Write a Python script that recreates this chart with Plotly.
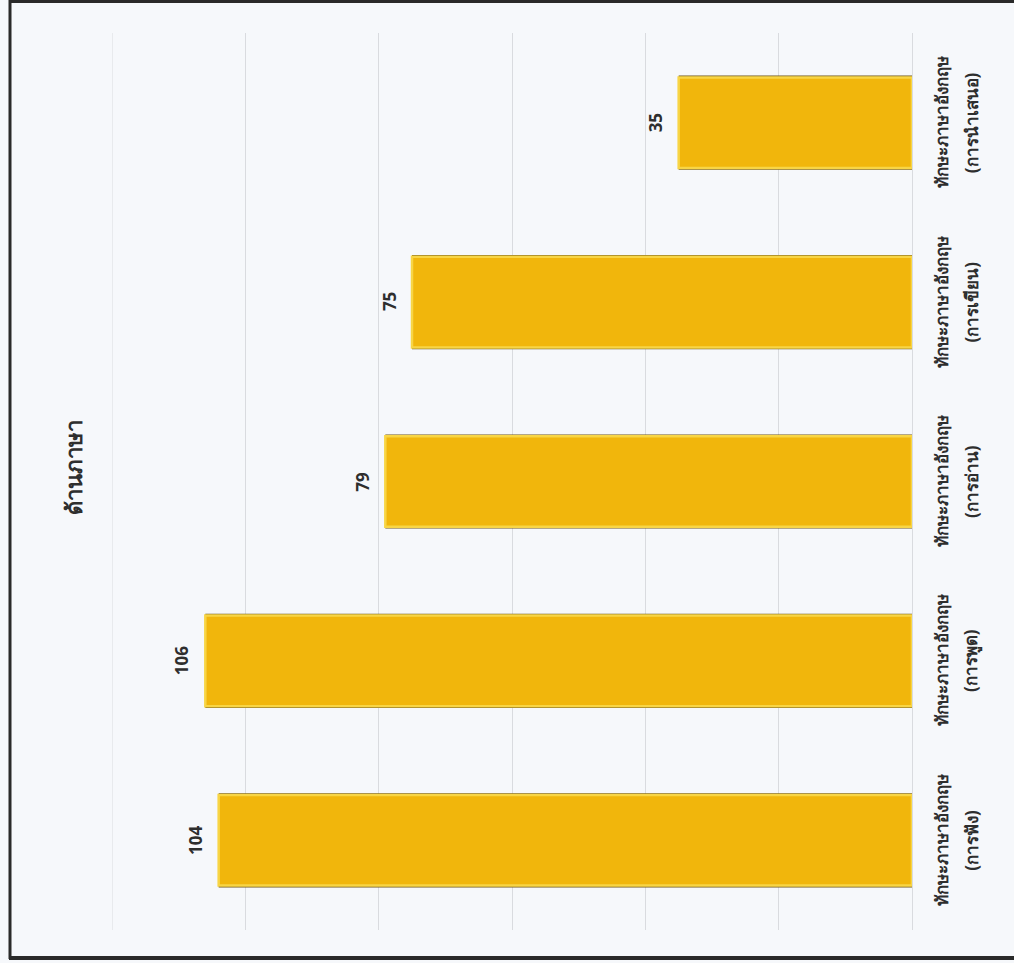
import plotly.graph_objects as go

# Categories listed from the bottom of the chart upwards
skill_main = "ทักษะภาษาอังกฤษ"
skill_sub = ["(การฟัง)", "(การพูด)", "(การอ่าน)", "(การเขียน)", "(การนำเสนอ)"]
categories = [f"{skill_main} {s}" for s in skill_sub]
values = [104, 106, 79, 75, 35]
title_text = "ด้านภาษา"

W, H = 1014, 963
ML, MR, MT, MB = 112, 102, 33, 33
PW, PH = W - ML - MR, H - MT - MB
bg = "#F6F8FB"
bar_color = "#F1B60C"
text_color = "#2E2E2E"
grid_color = "#D9DBDF"
font_family = "Noto Sans, DejaVu Sans, sans-serif"

fig = go.Figure()

# Dark shadow layer slightly wider than the bar gives the outline edge
fig.add_trace(go.Bar(
    x=values, y=categories, orientation="h",
    width=0.525,
    marker=dict(color="#6E5414", line=dict(width=0)),
    hoverinfo="skip", showlegend=False,
))
# Main bar with a light bevel rim
fig.add_trace(go.Bar(
    x=values, y=categories, orientation="h",
    width=0.505,
    marker=dict(color=bar_color, line=dict(color="#F8D545", width=2.5)),
    showlegend=False,
))

annotations = []
# Value labels at the end of each bar
for cat, v in zip(categories, values):
    annotations.append(dict(
        x=v, y=cat, xref="x", yref="y", text=f"<b>{v}</b>",
        textangle=-90, xshift=-23, showarrow=False,
        font=dict(family=font_family, size=17, color=text_color),
    ))
# Two-line category labels on the right-hand side
for cat, sub in zip(categories, skill_sub):
    annotations.append(dict(
        x=1 + 43 / PW, y=cat, xref="paper", yref="y", text=f"<b>{skill_main}</b>",
        textangle=-90, showarrow=False,
        font=dict(family=font_family, size=17, color=text_color),
    ))
    annotations.append(dict(
        x=1 + 73 / PW, y=cat, xref="paper", yref="y", text=f"<b>{sub}</b>",
        textangle=-90, showarrow=False,
        font=dict(family=font_family, size=17, color=text_color),
    ))
# Chart title
annotations.append(dict(
    text=f"<b>{title_text}</b>", textangle=-90,
    x=-56 / PW, y=0.515, xref="paper", yref="paper",
    font=dict(family=font_family, size=22, color=text_color),
    showarrow=False,
))

fig.update_layout(
    width=W, height=H,
    paper_bgcolor=bg, plot_bgcolor=bg,
    margin=dict(l=ML, r=MR, t=MT, b=MB),
    barmode="overlay",
    font=dict(family=font_family, color=text_color),
    xaxis=dict(
        range=[120, 0],
        tickmode="linear", tick0=0, dtick=20,
        showticklabels=False,
        showgrid=True, gridcolor=grid_color, gridwidth=1,
        zeroline=False, showline=False,
    ),
    yaxis=dict(
        side="right",
        showticklabels=False,
        showgrid=False, zeroline=False,
        showline=True, linecolor=grid_color, linewidth=1,
        ticks="",
    ),
    annotations=annotations,
)

# Gridline at the far end of the value axis
fig.add_shape(type="line", xref="x", yref="paper", x0=120, x1=120, y0=0, y1=1,
              line=dict(color=grid_color, width=1), layer="below")

# Dark page frame (left, top, bottom)
fig.add_shape(type="line", xref="paper", yref="paper",
              x0=-102 / PW, x1=-102 / PW, y0=-29 / PH, y1=1 + 33 / PH,
              line=dict(color="#2A2A2A", width=3))
fig.add_shape(type="line", xref="paper", yref="paper",
              x0=-103 / PW, x1=1 + MR / PW, y0=-28 / PH, y1=-28 / PH,
              line=dict(color="#2A2A2A", width=4))
fig.add_shape(type="line", xref="paper", yref="paper",
              x0=-103 / PW, x1=1 + MR / PW, y0=1 + 32 / PH, y1=1 + 32 / PH,
              line=dict(color="#2A2A2A", width=4))

fig.write_html("out.html")
